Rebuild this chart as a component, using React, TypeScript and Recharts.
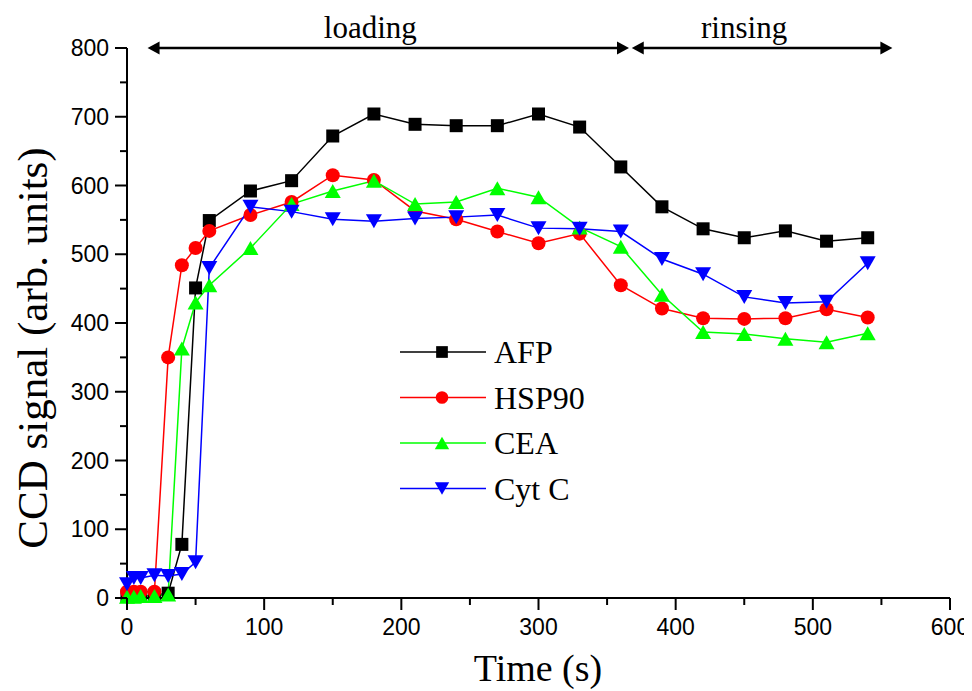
import { Legend, Line, LineChart, ReferenceLine, XAxis, YAxis } from 'recharts'

const times = [0, 5, 10, 20, 30, 40, 50, 60, 90, 120, 150, 180, 210, 240, 270, 300, 330, 360, 390, 420, 450, 480, 510, 540]
const afp = [3, 3, 3, 4, 7, 78, 451, 549, 592, 607, 672, 704, 689, 687, 687, 704, 685, 627, 569, 537, 524, 534, 519, 524]
const hsp90 = [9, 9, 9, 9, 350, 484, 509, 534, 557, 576, 615, 608, 563, 551, 533, 516, 530, 455, 421, 407, 406, 407, 420, 408]
const cea = [2, 2, 3, 3, 5, 363, 430, 455, 509, 573, 592, 607, 573, 576, 596, 583, 539, 511, 441, 387, 384, 377, 372, 385]
const cytC = [20, 29, 29, 33, 32, 35, 52, 480, 569, 562, 551, 548, 552, 554, 557, 538, 537, 533, 493, 471, 438, 429, 431, 487]

const xTicks = [0, 50, 100, 150, 200, 250, 300, 350, 400, 450, 500, 550, 600]
const yTicks = [0, 50, 100, 150, 200, 250, 300, 350, 400, 450, 500, 550, 600, 650, 700, 750, 800]

const phases = [
  { name: 'loading', start: 15, end: 366 },
  { name: 'rinsing', start: 368, end: 558 },
]

const series = [
  { key: 'afp', name: 'AFP', color: '#000000', shape: 'square', values: afp },
  { key: 'hsp90', name: 'HSP90', color: '#ff0000', shape: 'circle', values: hsp90 },
  { key: 'cea', name: 'CEA', color: '#00ff00', shape: 'up', values: cea },
  { key: 'cytC', name: 'Cyt C', color: '#0000ff', shape: 'down', values: cytC },
]

const data = times.map((t, i) => ({
  t,
  afp: afp[i],
  hsp90: hsp90[i],
  cea: cea[i],
  cytC: cytC[i],
}))

const serif = '"Liberation Serif", "Times New Roman", serif'
const sans = '"Liberation Sans", Arial, sans-serif'

function Marker({ cx, cy, shape, color, s = 1 }: { cx: number; cy: number; shape: string; color: string; s?: number }) {
  if (shape === 'square') {
    const h = 6.5 * s
    return <rect x={cx - h} y={cy - h} width={h * 2} height={h * 2} fill={color} />
  }
  if (shape === 'circle') {
    return <circle cx={cx} cy={cy} r={7 * s} fill={color} />
  }
  const w = 8 * s
  const h = 7 * s
  if (shape === 'up') {
    return <polygon points={`${cx - w},${cy + h} ${cx + w},${cy + h} ${cx},${cy - h}`} fill={color} />
  }
  return <polygon points={`${cx - w},${cy - h} ${cx + w},${cy - h} ${cx},${cy + h}`} fill={color} />
}

function XTick({ x, y, payload }: any) {
  const major = payload.value % 100 === 0
  return (
    <g>
      <line x1={x} x2={x} y1={y} y2={y + (major ? 12 : 7)} stroke="#000" strokeWidth={2} />
      {major && (
        <text x={x} y={y + 37} textAnchor="middle" fontSize={23} fontFamily={sans} fill="#000">
          {payload.value}
        </text>
      )}
    </g>
  )
}

function YTick({ x, y, payload }: any) {
  const major = payload.value % 100 === 0
  return (
    <g>
      <line x1={x} x2={x - (major ? 12 : 7)} y1={y} y2={y} stroke="#000" strokeWidth={2} />
      {major && (
        <text x={x - 18} y={y + 8} textAnchor="end" fontSize={23} fontFamily={sans} fill="#000">
          {payload.value}
        </text>
      )}
    </g>
  )
}

function PhaseArrow({ x1, y1, x2, label }: any) {
  const a = 12
  const b = 6.5
  return (
    <g>
      <line x1={x1 + 4} x2={x2 - 4} y1={y1} y2={y1} stroke="#000" strokeWidth={2.5} />
      <polygon points={`${x1},${y1} ${x1 + a},${y1 - b} ${x1 + a},${y1 + b}`} fill="#000" />
      <polygon points={`${x2},${y1} ${x2 - a},${y1 - b} ${x2 - a},${y1 + b}`} fill="#000" />
      <text x={(x1 + x2) / 2 - 18} y={y1 - 10} textAnchor="middle" fontSize={31} fontFamily={serif} fill="#000">
        {label}
      </text>
    </g>
  )
}

function LegendBox() {
  return (
    <svg width={220} height={190}>
      {series.map((s, i) => {
        const cy = 22 + i * 45.5
        return (
          <g key={s.key}>
            <line x1={0} x2={86} y1={cy} y2={cy} stroke={s.color} strokeWidth={1.5} />
            <Marker cx={42} cy={cy} shape={s.shape} color={s.color} s={0.9} />
            <text x={94} y={cy + 11} fontSize={32} fontFamily={serif} fill="#000">
              {s.name}
            </text>
          </g>
        )
      })}
    </svg>
  )
}

export default function App() {
  return (
    <LineChart width={960} height={683} data={data} margin={{ top: 40, right: 18, bottom: 0, left: 0 }}>
      <XAxis
        dataKey="t"
        type="number"
        domain={[0, 600]}
        ticks={xTicks}
        interval={0}
        tick={<XTick />}
        tickLine={false}
        tickSize={0}
        tickMargin={0}
        height={93}
        axisLine={{ stroke: '#000', strokeWidth: 2 }}
        label={{
          content: () => (
            <text x={530} y={673} textAnchor="middle" fontSize={38} fontFamily={serif} fill="#000">
              Time (s)
            </text>
          ),
        }}
      />
      <YAxis
        type="number"
        domain={[0, 800]}
        ticks={yTicks}
        interval={0}
        tick={<YTick />}
        tickLine={false}
        tickSize={0}
        tickMargin={0}
        width={119}
        axisLine={{ stroke: '#000', strokeWidth: 2 }}
        label={{
          content: () => (
            <text
              x={24}
              y={340}
              transform="rotate(-90 24 340)"
              textAnchor="middle"
              dominantBaseline="central"
              fontSize={43}
              fontFamily={serif}
              fill="#000"
            >
              CCD signal (arb. units)
            </text>
          ),
        }}
      />
      {phases.map((p) => (
        <ReferenceLine
          key={p.name}
          segment={[
            { x: p.start, y: 800 },
            { x: p.end, y: 800 },
          ]}
          ifOverflow="visible"
          shape={(props: any) => <PhaseArrow {...props} label={p.name} />}
        />
      ))}
      {series.map((s) => (
        <Line
          key={s.key}
          type="linear"
          dataKey={s.key}
          name={s.name}
          stroke={s.color}
          strokeWidth={1.5}
          isAnimationActive={false}
          dot={(props: any) => <Marker key={props.index} cx={props.cx} cy={props.cy} shape={s.shape} color={s.color} />}
          activeDot={false}
        />
      ))}
      <Legend
        layout="vertical"
        align="center"
        verticalAlign="middle"
        content={() => <LegendBox />}
        wrapperStyle={{ left: 392, top: 322, width: 220, height: 190 }}
      />
    </LineChart>
  )
}
